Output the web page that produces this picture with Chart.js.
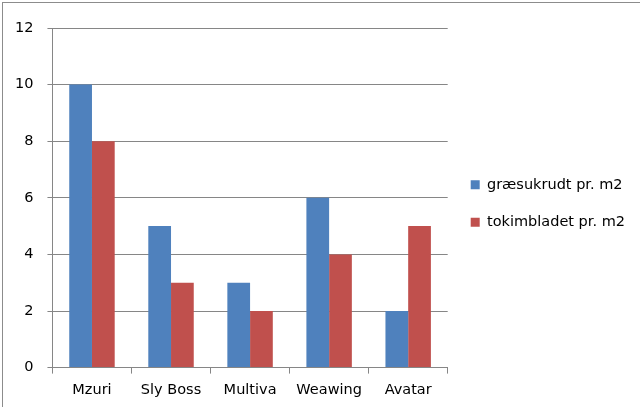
<!DOCTYPE html>
<html>
<head>
<meta charset="utf-8">
<script src="https://cdn.jsdelivr.net/npm/chart.js@4/dist/chart.umd.min.js"></script>
<style>
  html, body { margin: 0; padding: 0; background: #fff; }
  #wrap { position: relative; width: 640px; height: 407px; }
  #frame { position: absolute; left: 2px; top: 2px; right: 0; bottom: 0;
           border-left: 1px solid #8c8c8c; border-top: 1px solid #8c8c8c; pointer-events: none; }
</style>
</head>
<body>
<div id="wrap">
  <canvas id="bar-chart" width="640" height="407"></canvas>
  <div id="frame"></div>
</div>
<script>
var categories = ['Mzuri', 'Sly Boss', 'Multiva', 'Weawing', 'Avatar'];
var graesukrudt = [10, 5, 3, 6, 2];
var tokimbladet = [8, 3, 2, 4, 5];
var yTicks = [0, 2, 4, 6, 8, 10, 12];

Chart.defaults.font.family = "'DejaVu Sans', sans-serif";
Chart.defaults.font.size = 14.5;
Chart.defaults.color = '#000';

var barChart = document.getElementById("bar-chart");

// legend sits a bit above the middle in the original
var legendShift = {
    id: 'legendShift',
    afterLayout: function (chart) {
        chart.legend.top -= 14;
        chart.legend.bottom -= 14;
    }
};

var myBarChart = new Chart(barChart, {
    type: 'bar',
    data: {
        labels: categories,
        datasets: [
            {
                label: 'græsukrudt pr. m2',
                data: graesukrudt,
                backgroundColor: '#4F81BD',
                borderWidth: 0
            },
            {
                label: 'tokimbladet pr. m2',
                data: tokimbladet,
                backgroundColor: '#C0504D',
                borderWidth: 0
            }
        ]
    },
    plugins: [legendShift],
    options: {
        responsive: false,
        animation: false,
        layout: { padding: { top: 28, left: 1, right: 5, bottom: 0 } },
        datasets: {
            bar: { categoryPercentage: 0.575, barPercentage: 1 }
        },
        plugins: {
            legend: {
                position: 'right',
                maxWidth: 300, // otherwise it gets squeezed to half the width
                labels: {
                    boxWidth: 9,
                    boxHeight: 9,
                    padding: 23
                }
            },
            tooltip: { enabled: false }
        },
        scales: {
            x: {
                grid: {
                    offset: true,
                    drawOnChartArea: false,
                    tickLength: 6,
                    color: '#868686'
                },
                border: { color: '#868686' },
                ticks: { padding: 8 }
            },
            y: {
                min: 0,
                max: 12,
                afterBuildTicks: function (axis) {
                    axis.ticks = yTicks.map(function (v) { return { value: v }; });
                },
                grid: { color: '#868686', tickLength: 5 },
                border: { color: '#868686' },
                ticks: { padding: 14 }
            }
        }
    }
});
</script>
</body>
</html>
